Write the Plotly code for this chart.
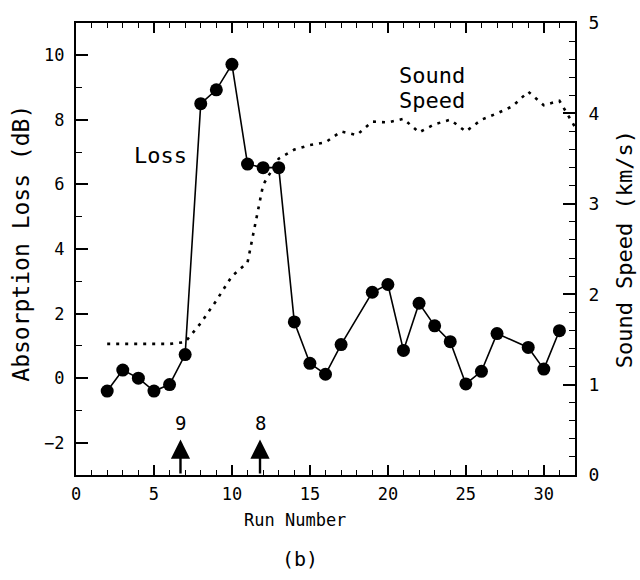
import plotly.graph_objects as go

# ---- data ----
loss_runs = [2, 3, 4, 5, 6, 7, 8, 9, 10, 11, 12, 13, 14, 15, 16, 17, 19, 20, 21, 22, 23, 24, 25, 26, 27, 29, 30, 31]
loss_db = [-0.4, 0.25, 0.0, -0.4, -0.2, 0.73, 8.5, 8.93, 9.72, 6.63, 6.52, 6.52, 1.74, 0.46, 0.12, 1.04,
           2.66, 2.9, 0.86, 2.32, 1.62, 1.13, -0.18, 0.21, 1.38, 0.95, 0.28, 1.47]

speed_runs = list(range(2, 33))
speed_kms = [1.45, 1.45, 1.45, 1.45, 1.45, 1.47, 1.68, 1.93, 2.2, 2.35, 3.21, 3.5, 3.6, 3.65, 3.68, 3.8,
             3.76, 3.91, 3.9, 3.94, 3.79, 3.88, 3.93, 3.8, 3.93, 4.0, 4.08, 4.24, 4.09, 4.14, 3.85]

arrow_runs = [6.7, 11.8]
arrow_labels = ["9", "8"]

x_ticks = [0, 5, 10, 15, 20, 25, 30]
left_ticks = [-2, 0, 2, 4, 6, 8, 10]
right_ticks = [0, 1, 2, 3, 4, 5]

FONT = "DejaVu Sans Mono"

fig = go.Figure()

fig.add_trace(go.Scatter(
    x=speed_runs, y=speed_kms, yaxis="y2", mode="lines",
    line=dict(color="black", width=2.6, dash="3px,6px"),
    showlegend=False, hoverinfo="skip"))

fig.add_trace(go.Scatter(
    x=loss_runs, y=loss_db, mode="lines+markers",
    line=dict(color="black", width=1.6),
    marker=dict(color="black", size=13),
    showlegend=False, hoverinfo="skip"))

annotations = []
for xr, lab in zip(arrow_runs, arrow_labels):
    annotations.append(dict(
        x=xr, y=-1.9, ax=xr, ay=-3.0, xref="x", yref="y", axref="x", ayref="y",
        text="", showarrow=True, arrowhead=2, arrowsize=1.6, arrowwidth=2.4,
        arrowcolor="black", standoff=0, startstandoff=0))
    annotations.append(dict(
        x=xr, y=-1.4, xref="x", yref="y", text=lab, showarrow=False,
        xanchor="center", yanchor="middle",
        font=dict(family=FONT, size=19, color="black")))

annotations += [
    dict(x=5.45, y=6.9, xref="x", yref="y", text="Loss", showarrow=False,
         xanchor="center", yanchor="middle",
         font=dict(family=FONT, size=22, color="black")),
    dict(x=20.6, y=9.36, xref="x", yref="y", text="Sound", showarrow=False,
         xanchor="left", yanchor="middle",
         font=dict(family=FONT, size=22, color="black")),
    dict(x=20.6, y=8.6, xref="x", yref="y", text="Speed", showarrow=False,
         xanchor="left", yanchor="middle",
         font=dict(family=FONT, size=22, color="black")),
    dict(x=-0.112, y=0.512, xref="paper", yref="paper", text="Absorption Loss (dB)",
         xanchor="center", yanchor="middle",
         showarrow=False, textangle=-90, font=dict(family=FONT, size=23, color="black")),
    dict(x=1.10, y=0.499, xref="paper", yref="paper", text="Sound Speed (km/s)",
         xanchor="center", yanchor="middle",
         showarrow=False, textangle=-90, font=dict(family=FONT, size=22, color="black")),
    dict(x=0.439, y=-0.1, xref="paper", yref="paper", text="Run Number",
         xanchor="center", yanchor="middle",
         showarrow=False, font=dict(family=FONT, size=17, color="black")),
    dict(x=0.449, y=-0.185, xref="paper", yref="paper", text="(b)",
         xanchor="center", yanchor="middle",
         showarrow=False, font=dict(family=FONT, size=20, color="black")),
]

fig.update_layout(
    width=640, height=580,
    margin=dict(l=76, r=65, t=16, b=105),
    paper_bgcolor="white", plot_bgcolor="white",
    showlegend=False,
    annotations=annotations,
    xaxis=dict(
        range=[0, 32], tickvals=x_ticks, ticks="inside", ticklen=10, tickwidth=1.5,
        tickcolor="black", showline=True, linecolor="black", linewidth=2, mirror="ticks",
        showgrid=False, zeroline=False, ticklabelstandoff=3,
        minor=dict(dtick=1, ticks="inside", ticklen=5, tickwidth=1.2, tickcolor="black"),
        tickfont=dict(family=FONT, size=17, color="black")),
    yaxis=dict(
        range=[-3, 11], tickvals=left_ticks, ticks="inside", ticklen=12, tickwidth=1.5,
        tickcolor="black", showline=True, linecolor="black", linewidth=2,
        showgrid=False, zeroline=False, ticklabelstandoff=6,
        minor=dict(dtick=1, ticks="inside", ticklen=6, tickwidth=1.2, tickcolor="black"),
        tickfont=dict(family=FONT, size=17, color="black")),
    yaxis2=dict(
        range=[0, 5], tickvals=right_ticks, overlaying="y", side="right",
        ticks="inside", ticklen=12, tickwidth=1.5, tickcolor="black",
        showline=True, linecolor="black", linewidth=2,
        showgrid=False, zeroline=False, ticklabelstandoff=8,
        minor=dict(dtick=0.2, ticks="inside", ticklen=6, tickwidth=1.2, tickcolor="black"),
        tickfont=dict(family=FONT, size=18, color="black")),
)

fig.write_html("out.html")
